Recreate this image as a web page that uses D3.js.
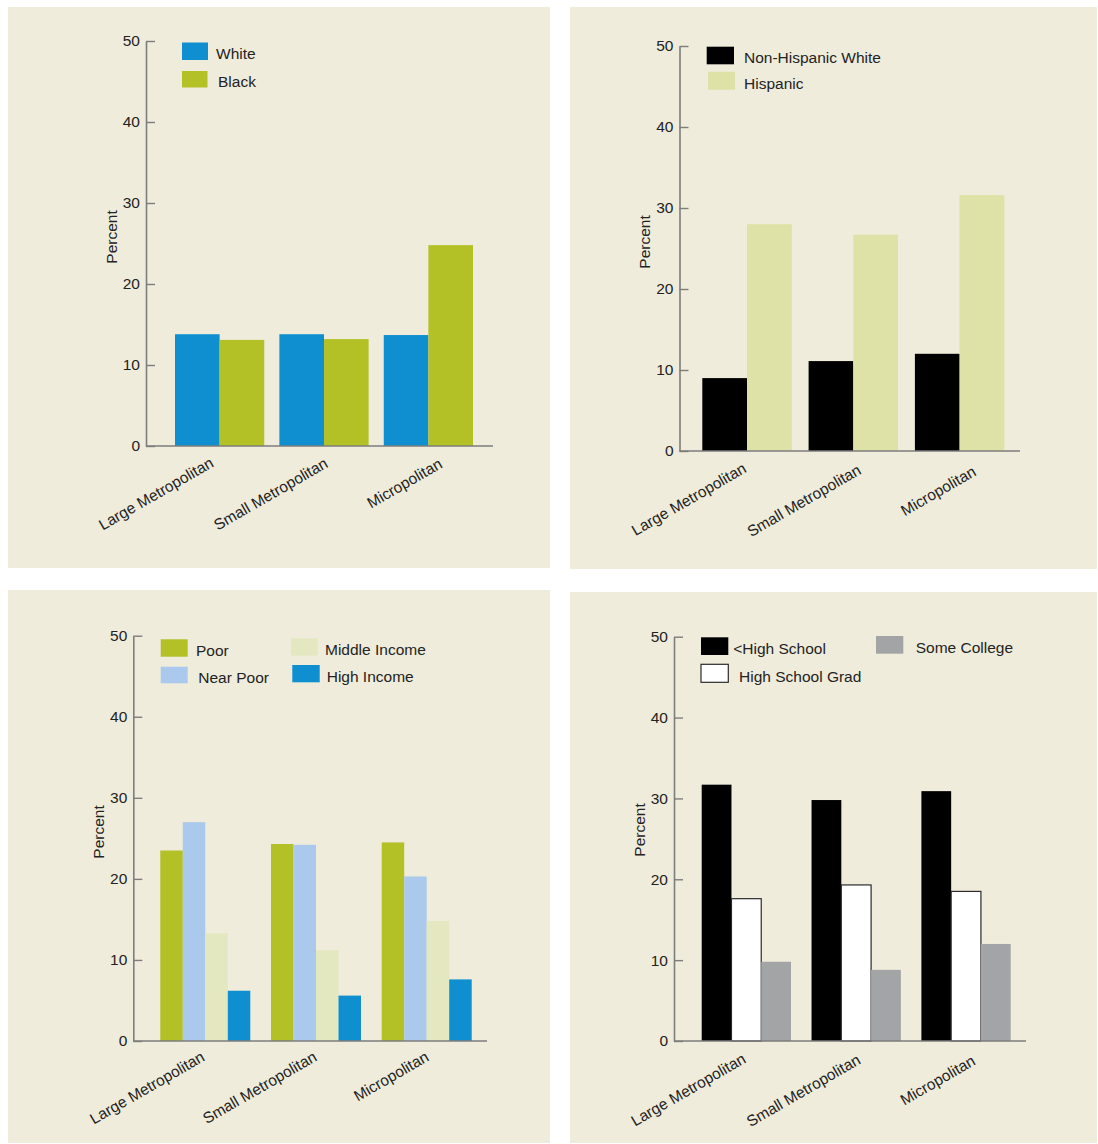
<!DOCTYPE html>
<html>
<head>
<meta charset="utf-8">
<script src="https://cdn.jsdelivr.net/npm/d3@7"></script>
<style>
  html, body { margin: 0; padding: 0; background: #ffffff; }
  svg { display: block; }
  text { font-family: "Liberation Sans", Arial, Helvetica, sans-serif; fill: #232323; }
</style>
</head>
<body>
<svg id="chart" width="1098" height="1144"></svg>
<script>
// ---------------- DATA ----------------
const categories = ["Large Metropolitan", "Small Metropolitan", "Micropolitan"];
const yTicks = [0, 10, 20, 30, 40, 50];
const yLabel = "Percent";

// Panel A: race
const raceSeries = ["White", "Black"];
const raceWhite = [13.8, 13.8, 13.7];
const raceBlack = [13.1, 13.2, 24.8];

// Panel B: ethnicity
const ethSeries = ["Non-Hispanic White", "Hispanic"];
const ethNonHispWhite = [9.0, 11.1, 12.0];
const ethHispanic = [28.0, 26.7, 31.6];

// Panel C: income
const incSeries = ["Poor", "Near Poor", "Middle Income", "High Income"];
const incPoor = [23.5, 24.3, 24.5];
const incNearPoor = [27.0, 24.2, 20.3];
const incMiddle = [13.3, 11.2, 14.8];
const incHigh = [6.2, 5.6, 7.6];

// Panel D: education
const eduSeries = ["<High School", "High School Grad", "Some College"];
const eduLessHS = [31.7, 29.8, 30.9];
const eduHSGrad = [17.6, 19.3, 18.5];
const eduSomeCollege = [9.8, 8.8, 12.0];

// ---------------- STYLES / LAYOUT ----------------
const BG = "#efecdb";
const AXIS = "#7d7d7d";
const TXT = "#232323";
const FONT = '"Liberation Sans", Arial, sans-serif';

const panels = [
  {
    series: raceSeries, values: [raceWhite, raceBlack],
    colors: ["#0f8fd0", "#b3c126"], strokes: [null, null],
    bg: [8, 7, 550, 568], axisX: 146, yTop: 41, yBot: 446, xEnd: 493,
    barRange: [175, 473], pad: 0.145,
    lab: { a: -5, b: 10, dy: 20, dyStep: 0.5 }, pct: [111, 237],
    legend: [
      { sx: 182, sy: 42.5, sw: 26, sh: 17.5, tx: 216, ty: 59 },
      { sx: 182, sy: 71, sw: 25.5, sh: 16.5, tx: 218, ty: 87 }
    ]
  },
  {
    series: ethSeries, values: [ethNonHispWhite, ethHispanic],
    colors: ["#000000", "#dfe2a6"], strokes: [null, null],
    bg: [570, 7, 1097, 569], axisX: 679.5, yTop: 46, yBot: 451, xEnd: 1020,
    barRange: [702.3, 1004.3], pad: 0.159,
    lab: { a: 0.5, b: 8.5, dy: 20.5, dyStep: 1.6 }, pct: [644, 242],
    legend: [
      { sx: 706.7, sy: 46.7, sw: 27.3, sh: 17.6, tx: 744, ty: 62.7 },
      { sx: 708, sy: 71.7, sw: 27, sh: 18, tx: 744, ty: 88.5 }
    ]
  },
  {
    series: incSeries, values: [incPoor, incNearPoor, incMiddle, incHigh],
    colors: ["#b3c126", "#abc9ec", "#e4e8c0", "#0f8fd0"], strokes: [null, null, null, null],
    bg: [8, 590, 550, 1143], axisX: 133.3, yTop: 635.7, yBot: 1041, xEnd: 487,
    barRange: [160.3, 471.7], pad: 0.187,
    lab: { a: 0.5, b: 1.4, dy: 19, dyStep: 0 }, pct: [98.5, 832],
    legend: [
      { sx: 160.7, sy: 639.3, sw: 27, sh: 17.4, tx: 196, ty: 655.7 },
      { sx: 160.7, sy: 666.7, sw: 27, sh: 16.6, tx: 198.3, ty: 682.5 },
      { sx: 291, sy: 638.3, sw: 26.7, sh: 17.4, tx: 325, ty: 654.7 },
      { sx: 292.3, sy: 665, sw: 27.4, sh: 17.3, tx: 326.7, ty: 682 }
    ]
  },
  {
    series: eduSeries, values: [eduLessHS, eduHSGrad, eduSomeCollege],
    colors: ["#000000", "#ffffff", "#a3a4a6"], strokes: [null, "#2b2b2b", null],
    bg: [570, 592, 1097, 1143], axisX: 674, yTop: 636.7, yBot: 1041, xEnd: 1026,
    barRange: [701.7, 1010.7], pad: 0.187,
    lab: { a: 0.5, b: 5, dy: 21, dyStep: 1 }, pct: [639, 830],
    legend: [
      { sx: 701, sy: 637.3, sw: 27.3, sh: 17.7, tx: 733.3, ty: 654.3 },
      { sx: 701, sy: 664.3, sw: 27.3, sh: 18, tx: 739, ty: 682.3 },
      { sx: 876, sy: 636, sw: 27.3, sh: 17.7, tx: 915.7, ty: 652.7 }
    ]
  }
];

// ---------------- DRAW ----------------
const svg = d3.select("#chart");
svg.append("rect").attr("x", 0).attr("y", 0).attr("width", 1098).attr("height", 1144).attr("fill", "#ffffff");

panels.forEach(p => {
  const g = svg.append("g");

  g.append("rect")
    .attr("x", p.bg[0]).attr("y", p.bg[1])
    .attr("width", p.bg[2] - p.bg[0]).attr("height", p.bg[3] - p.bg[1])
    .attr("fill", BG);

  const y = d3.scaleLinear().domain([0, 50]).range([p.yBot, p.yTop]);
  const x0 = d3.scaleBand().domain(categories).range(p.barRange)
    .paddingInner(p.pad).paddingOuter(0);
  const x1 = d3.scaleBand().domain(p.series).range([0, x0.bandwidth()]).padding(0);

  // bars
  categories.forEach((cat, ci) => {
    p.series.forEach((s, si) => {
      const v = p.values[si][ci];
      const r = g.append("rect")
        .attr("x", x0(cat) + x1(s))
        .attr("y", y(v))
        .attr("width", x1.bandwidth())
        .attr("height", y(0) - y(v))
        .attr("fill", p.colors[si]);
      if (p.strokes[si]) {
        r.attr("stroke", p.strokes[si]).attr("stroke-width", 1.2);
      }
    });
  });

  // y axis
  const yAxis = d3.axisLeft(y).tickValues(yTicks).tickSizeInner(-9).tickSizeOuter(0).tickPadding(6);
  const ya = g.append("g").attr("transform", `translate(${p.axisX},0)`).call(yAxis);
  ya.select(".domain").attr("stroke", AXIS).attr("stroke-width", 1.6);
  ya.selectAll(".tick line").attr("stroke", AXIS).attr("stroke-width", 1.4);
  ya.selectAll(".tick text").attr("font-size", 15.5)
    .attr("font-family", FONT).attr("fill", TXT);

  // x baseline
  g.append("line")
    .attr("x1", p.axisX).attr("x2", p.xEnd)
    .attr("y1", p.yBot).attr("y2", p.yBot)
    .attr("stroke", AXIS).attr("stroke-width", 1.6);

  // x axis labels
  const xAxis = d3.axisBottom(x0).tickSize(0).tickPadding(0);
  const xa = g.append("g").attr("transform", `translate(0,${p.yBot})`).call(xAxis);
  xa.select(".domain").remove();
  xa.selectAll(".tick text")
    .attr("font-size", 15.5)
    .attr("font-family", FONT)
    .attr("fill", TXT)
    .attr("text-anchor", "end")
    .attr("dy", null)
    .attr("y", 0)
    .attr("transform", (d, i) => `translate(${p.lab.a + p.lab.b * i},${p.lab.dy + p.lab.dyStep * i}) rotate(-30)`);

  // y label
  g.append("text")
    .attr("transform", `translate(${p.pct[0]},${p.pct[1]}) rotate(-90)`)
    .attr("text-anchor", "middle")
    .attr("dominant-baseline", "central")
    .attr("font-size", 15.5)
    .text(yLabel);

  // legend
  p.series.forEach((s, si) => {
    const L = p.legend[si];
    const r = g.append("rect")
      .attr("x", L.sx).attr("y", L.sy).attr("width", L.sw).attr("height", L.sh)
      .attr("fill", p.colors[si]);
    if (p.strokes[si]) r.attr("stroke", p.strokes[si]).attr("stroke-width", 1.2);
    g.append("text").attr("x", L.tx).attr("y", L.ty).attr("font-size", 15.5).text(s);
  });
});
</script>
</body>
</html>
